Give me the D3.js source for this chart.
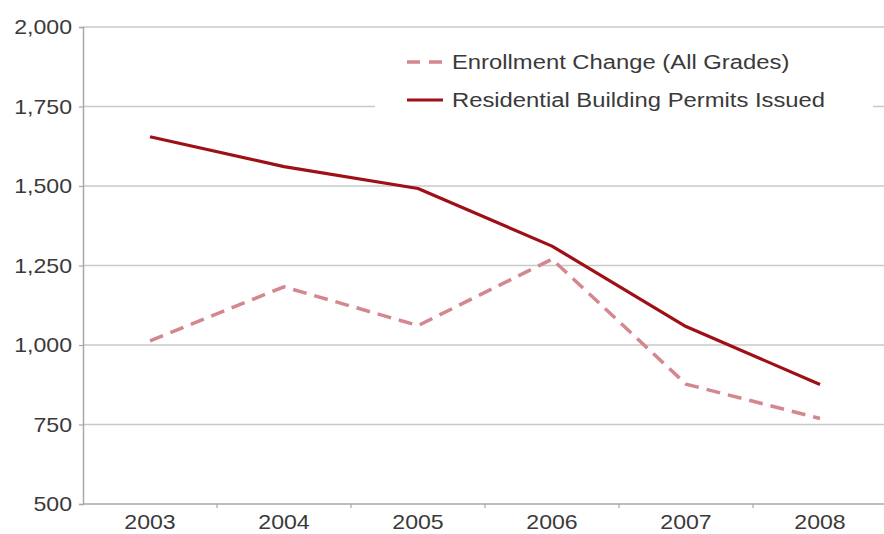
<!DOCTYPE html>
<html>
<head>
<meta charset="utf-8">
<script src="https://cdn.jsdelivr.net/npm/d3@7"></script>
<style>
  html, body { margin: 0; padding: 0; background: #fff; }
  svg { display: block; }
  text { font-family: "Liberation Sans", Arial, Helvetica, sans-serif; fill: #3a3a3a; }
</style>
</head>
<body>
<svg id="chart" width="884" height="534"></svg>
<script>
// Years on the x axis
const years = ["2003", "2004", "2005", "2006", "2007", "2008"];
// Enrollment change, all grades
const enrollment = [1013, 1183, 1061, 1270, 877, 769];
// Residential building permits issued
const permits = [1655, 1561, 1492, 1311, 1058, 876];
// Y axis ticks
const yTicks = [500, 750, 1000, 1250, 1500, 1750, 2000];
// Legend labels
const legendLabels = ["Enrollment Change (All Grades)", "Residential Building Permits Issued"];

const svg = d3.select("#chart");
const plotLeft = 83, plotRight = 887, plotTop = 27, plotBottom = 504;

const x = d3.scaleBand().domain(years).range([plotLeft, plotRight]);
const y = d3.scaleLinear().domain([500, 2000]).range([plotBottom, plotTop]);

// stretch text horizontally by a factor
function stretch(sel, f) {
  sel.each(function () {
    const len = this.getComputedTextLength();
    d3.select(this).attr("textLength", len * f).attr("lengthAdjust", "spacingAndGlyphs");
  });
}

// horizontal gridlines
svg.append("g")
  .selectAll("line")
  .data(yTicks.filter(d => d !== 500))
  .join("line")
  .attr("x1", plotLeft).attr("x2", 884)
  .attr("y1", d => y(d)).attr("y2", d => y(d))
  .attr("stroke", "#c9c9c9").attr("stroke-width", 1.5);

// y axis
const yAxis = svg.append("g")
  .attr("transform", `translate(${plotLeft},0)`)
  .call(d3.axisLeft(y).tickValues(yTicks).tickSize(4).tickPadding(7).tickFormat(d3.format(",")));
yAxis.select(".domain").attr("stroke", "#a8a8a8").attr("stroke-width", 1.5);
yAxis.selectAll(".tick line").attr("stroke", "#a8a8a8").attr("stroke-width", 1.2);
yAxis.selectAll(".tick text").attr("font-size", 21).attr("fill", "#383838")
  .style("font-family", "'Liberation Sans', Arial, sans-serif")
  .call(stretch, 1.1);

// x axis with ticks on band boundaries
const xAxisG = svg.append("g").attr("transform", `translate(0,${plotBottom})`);
xAxisG.append("line")
  .attr("x1", plotLeft).attr("x2", 884)
  .attr("stroke", "#a8a8a8").attr("stroke-width", 1.5);
xAxisG.selectAll("line.tk")
  .data(years.slice(1))
  .join("line")
  .attr("class", "tk")
  .attr("x1", d => x(d)).attr("x2", d => x(d))
  .attr("y1", 0).attr("y2", 4)
  .attr("stroke", "#a8a8a8").attr("stroke-width", 1.2);
xAxisG.selectAll("text")
  .data(years)
  .join("text")
  .attr("x", d => x(d) + x.bandwidth() / 2)
  .attr("y", 25)
  .attr("text-anchor", "middle")
  .attr("font-size", 21)
  .attr("fill", "#383838")
  .text(d => d)
  .call(stretch, 1.1);

// legend box
const lg = svg.append("g");
lg.append("rect")
  .attr("x", 375).attr("y", 36).attr("width", 498).attr("height", 90)
  .attr("fill", "#fff");

// lines
const line = d3.line()
  .x((d, i) => x(years[i]) + x.bandwidth() / 2)
  .y(d => y(d));

svg.append("path")
  .datum(enrollment)
  .attr("d", line)
  .attr("fill", "none")
  .attr("stroke", "#d4878e")
  .attr("stroke-width", 3.5)
  .attr("stroke-dasharray", "14,8");

svg.append("path")
  .datum(permits)
  .attr("d", line)
  .attr("fill", "none")
  .attr("stroke", "#9e0f16")
  .attr("stroke-width", 3.2)
  .attr("stroke-linejoin", "round");

// legend entries
const entries = [
  { label: legendLabels[0], color: "#d4878e", dash: "13,9", w: 3.5, y: 62 },
  { label: legendLabels[1], color: "#9e0f16", dash: null, w: 3.2, y: 100 }
];
entries.forEach(e => {
  lg.append("line")
    .attr("x1", 407).attr("x2", 443)
    .attr("y1", e.y).attr("y2", e.y)
    .attr("stroke", e.color).attr("stroke-width", e.w)
    .attr("stroke-dasharray", e.dash);
  lg.append("text")
    .attr("x", 452).attr("y", e.y + 7)
    .attr("font-size", 20)
    .attr("fill", "#383838")
    .text(e.label)
    .call(stretch, 1.19);
});
</script>
</body>
</html>
